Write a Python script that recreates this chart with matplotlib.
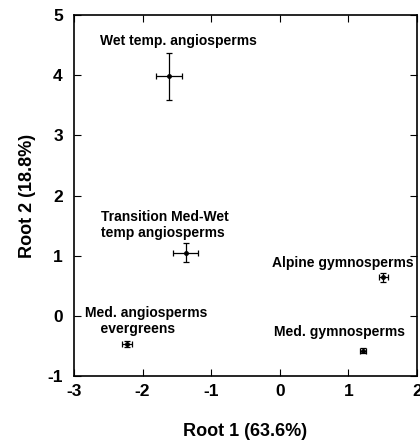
import matplotlib
matplotlib.use("Agg")
import matplotlib.pyplot as plt

plt.rcParams['font.family'] = ['Liberation Sans', 'DejaVu Sans']
plt.rcParams['font.weight'] = 'bold'
plt.rcParams['axes.unicode_minus'] = False

# group means on the two discriminant roots, with error bars
groups = ["Wet temp. angiosperms", "Transition Med-Wet\ntemp angiosperms",
          "Med. angiosperms\n    evergreens", "Alpine gymnosperms", "Med. gymnosperms"]
root1 = [-1.62, -1.37, -2.23, 1.51, 1.21]
root2 = [3.98, 1.05, -0.46, 0.64, -0.58]
err1 = [0.19, 0.18, 0.07, 0.06, 0.04]
err2 = [0.39, 0.16, 0.05, 0.07, 0.04]

# label anchor (left edge, vertical centre) in data units
label_x = [-2.62, -2.61, -2.84, -0.12, -0.085]
label_y = [4.57, 1.51, -0.08, 0.875, -0.26]

fig = plt.figure(figsize=(4.2, 4.45), dpi=100)
ax = fig.add_axes([0.176, 0.155, 0.817, 0.811])

ax.errorbar(root1, root2, xerr=err1, yerr=err2, fmt='o', color='black',
            ms=2.5, lw=0.9, capsize=2.5, capthick=0.9, elinewidth=0.9)

for name, lx, ly in zip(groups, label_x, label_y):
    ax.text(lx, ly, name, fontsize=10, fontweight='bold', ha='left', va='center',
            linespacing=1.2)

ax.set_xlim(-3, 2)
ax.set_ylim(-1, 5)
ax.set_xticks([-3, -2, -1, 0, 1, 2])
ax.set_yticks([-1, 0, 1, 2, 3, 4, 5])
ax.tick_params(direction='in', top=True, right=True, length=5, width=0.8,
               labelsize=12.5)
ax.tick_params(axis='x', pad=6)
ax.tick_params(axis='y', pad=8)
for lab in ax.get_xticklabels() + ax.get_yticklabels():
    lab.set_fontweight('bold')
for s in ax.spines.values():
    s.set_linewidth(1.2)

ax.set_xlabel("Root 1 (63.6%)", fontsize=13, fontweight='bold', labelpad=17)
ax.set_ylabel("Root 2 (18.8%)", fontsize=13, fontweight='bold', labelpad=8)

fig.savefig("out.png", dpi=100)
